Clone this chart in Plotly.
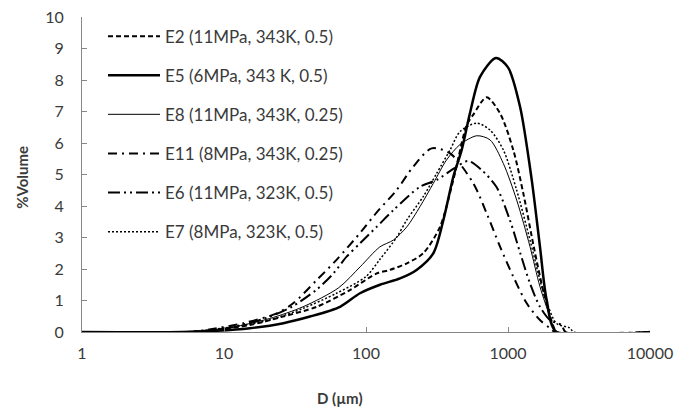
import plotly.graph_objects as go

# particle size distributions, %Volume vs D (um)
e2_d = [1, 5.5, 8.9, 15.2, 26, 45, 77, 119, 147, 194, 253, 332, 412, 512, 570, 707, 879, 1089, 1282, 1518, 1788, 2093, 2200, 10000]
e2_v = [0, 0, 0.08, 0.22, 0.49, 0.8, 1.33, 1.86, 1.97, 2.18, 2.5, 3.34, 4.83, 6.57, 6.9, 7.45, 6.94, 5.78, 4.4, 2.71, 1.23, 0.17, 0, 0]

e5_d = [1, 5.1, 8.9, 15.2, 26.2, 40.3, 65.6, 90.7, 125.5, 173.5, 227, 298, 351, 412, 472, 540, 635, 823, 1000, 1216, 1469, 1679, 1871, 2200, 10000]
e5_v = [0, 0, 0.04, 0.12, 0.28, 0.49, 0.8, 1.23, 1.5, 1.7, 1.97, 2.5, 3.56, 4.93, 5.78, 6.95, 8.1, 8.7, 8.4, 7.15, 4.83, 2.71, 1.02, 0, 0]

e8_d = [1, 5.5, 10, 21, 36, 64, 91, 125, 156, 194, 240, 298, 369, 459, 603, 747, 927, 1151, 1429, 1679, 1975, 2200, 10000]
e8_v = [0, 0, 0.1, 0.43, 0.8, 1.4, 2.07, 2.7, 2.92, 3.34, 3.98, 4.72, 5.46, 5.95, 6.23, 6.1, 5.35, 4.19, 2.71, 1.44, 0.49, 0, 0]

e11_d = [1, 5.8, 8.9, 13.7, 23.5, 30.7, 45, 62, 93, 119, 164, 215, 290, 391, 570, 707, 879, 1089, 1355, 1679, 1975, 2150, 10000]
e11_v = [0, 0, 0.12, 0.28, 0.59, 0.91, 1.65, 2.29, 3.2, 3.8, 4.5, 5.25, 5.83, 5.67, 4.72, 3.77, 2.71, 1.76, 0.91, 0.38, 0.12, 0, 0]

e6_d = [1, 5.8, 10, 20, 30, 45, 59, 73, 91, 119, 156, 240, 315, 420, 524, 650, 830, 1030, 1220, 1429, 1679, 1975, 2380, 2550, 10000]
e6_v = [0, 0, 0.1, 0.45, 0.8, 1.35, 1.86, 2.39, 2.82, 3.34, 3.87, 4.61, 4.83, 5.2, 5.43, 5.15, 4.6, 3.56, 2.5, 1.54, 0.8, 0.38, 0.22, 0, 0]

e7_d = [1, 5.5, 11.6, 21, 36, 62, 100, 125, 164, 194, 253, 315, 391, 459, 603, 747, 927, 1151, 1429, 1679, 1924, 2200, 2720, 2900, 10000]
e7_v = [0, 0, 0.17, 0.38, 0.75, 1.23, 1.76, 2.3, 3.0, 3.56, 4.3, 5.04, 5.78, 6.36, 6.63, 6.41, 5.78, 4.5, 2.92, 1.65, 0.8, 0.27, 0.13, 0, 0]

series = [
    ("E2 (11MPa, 343K, 0.5)", e2_d, e2_v, dict(color="black", width=2, dash="5px,3px")),
    ("E5 (6MPa, 343 K, 0.5)", e5_d, e5_v, dict(color="black", width=2.5)),
    ("E8 (11MPa, 343K, 0.25)", e8_d, e8_v, dict(color="black", width=1)),
    ("E11 (8MPa, 343K, 0.25)", e11_d, e11_v, dict(color="black", width=2, dash="9px,5px,2px,5px")),
    ("E6 (11MPa, 323K, 0.5)", e6_d, e6_v, dict(color="black", width=2, dash="12px,4px,2px,4px,2px,4px")),
    ("E7 (8MPa, 323K, 0.5)", e7_d, e7_v, dict(color="black", width=1.5, dash="2px,2px")),
]

fig = go.Figure()
for i, (name, d, v, line) in enumerate(series):
    fig.add_trace(go.Scatter(
        x=d, y=v, mode="lines", name=name, line=line,
        line_shape="spline", line_smoothing=0.8, cliponaxis=False, legendgroup=str(i),
    ))

text_col = "#3a3a3a"
axis_col = "#868686"

fig.update_layout(
    width=677, height=414,
    margin=dict(l=82, r=27, t=17, b=82),
    plot_bgcolor="white", paper_bgcolor="white",
    font=dict(family="Lato, 'Open Sans', sans-serif", size=16, color=text_col),
    legend=dict(
        x=0.037, y=0.995, xanchor="left", yanchor="top",
        bgcolor="rgba(0,0,0,0)", tracegroupgap=14, itemwidth=52,
        maxheight=380, font=dict(size=17, color=text_col),
    ),
    annotations=[
        dict(text="<b>D (µm)</b>", xref="paper", yref="paper", x=0.454, y=-0.21,
             xanchor="center", yanchor="middle",
             showarrow=False, font=dict(size=15, color=text_col)),
        dict(text="<b>%Volume</b>", xref="paper", yref="paper", x=-0.106, y=0.492,
             xanchor="center", yanchor="middle",
             showarrow=False, textangle=-90, font=dict(size=15, color=text_col)),
    ],
)

fig.update_xaxes(
    type="log", range=[0, 4], tickvals=[1, 10, 100, 1000, 10000],
    ticktext=["1", "10", "100", "1000", "10000"],
    showgrid=False, showline=True, linecolor=axis_col, linewidth=1,
    ticks="inside", ticklen=5, tickcolor=axis_col, ticklabelstandoff=7,
    zeroline=False, automargin=False,
)
fig.update_yaxes(
    range=[0, 10], dtick=1, showgrid=False, showline=True, linecolor=axis_col,
    linewidth=1, ticks="inside", ticklen=5, tickcolor=axis_col,
    ticklabelstandoff=14, zeroline=False, automargin=False,
)

fig.write_html("out.html", config={"displayModeBar": False},
               post_script="document.body.style.margin='0';")
